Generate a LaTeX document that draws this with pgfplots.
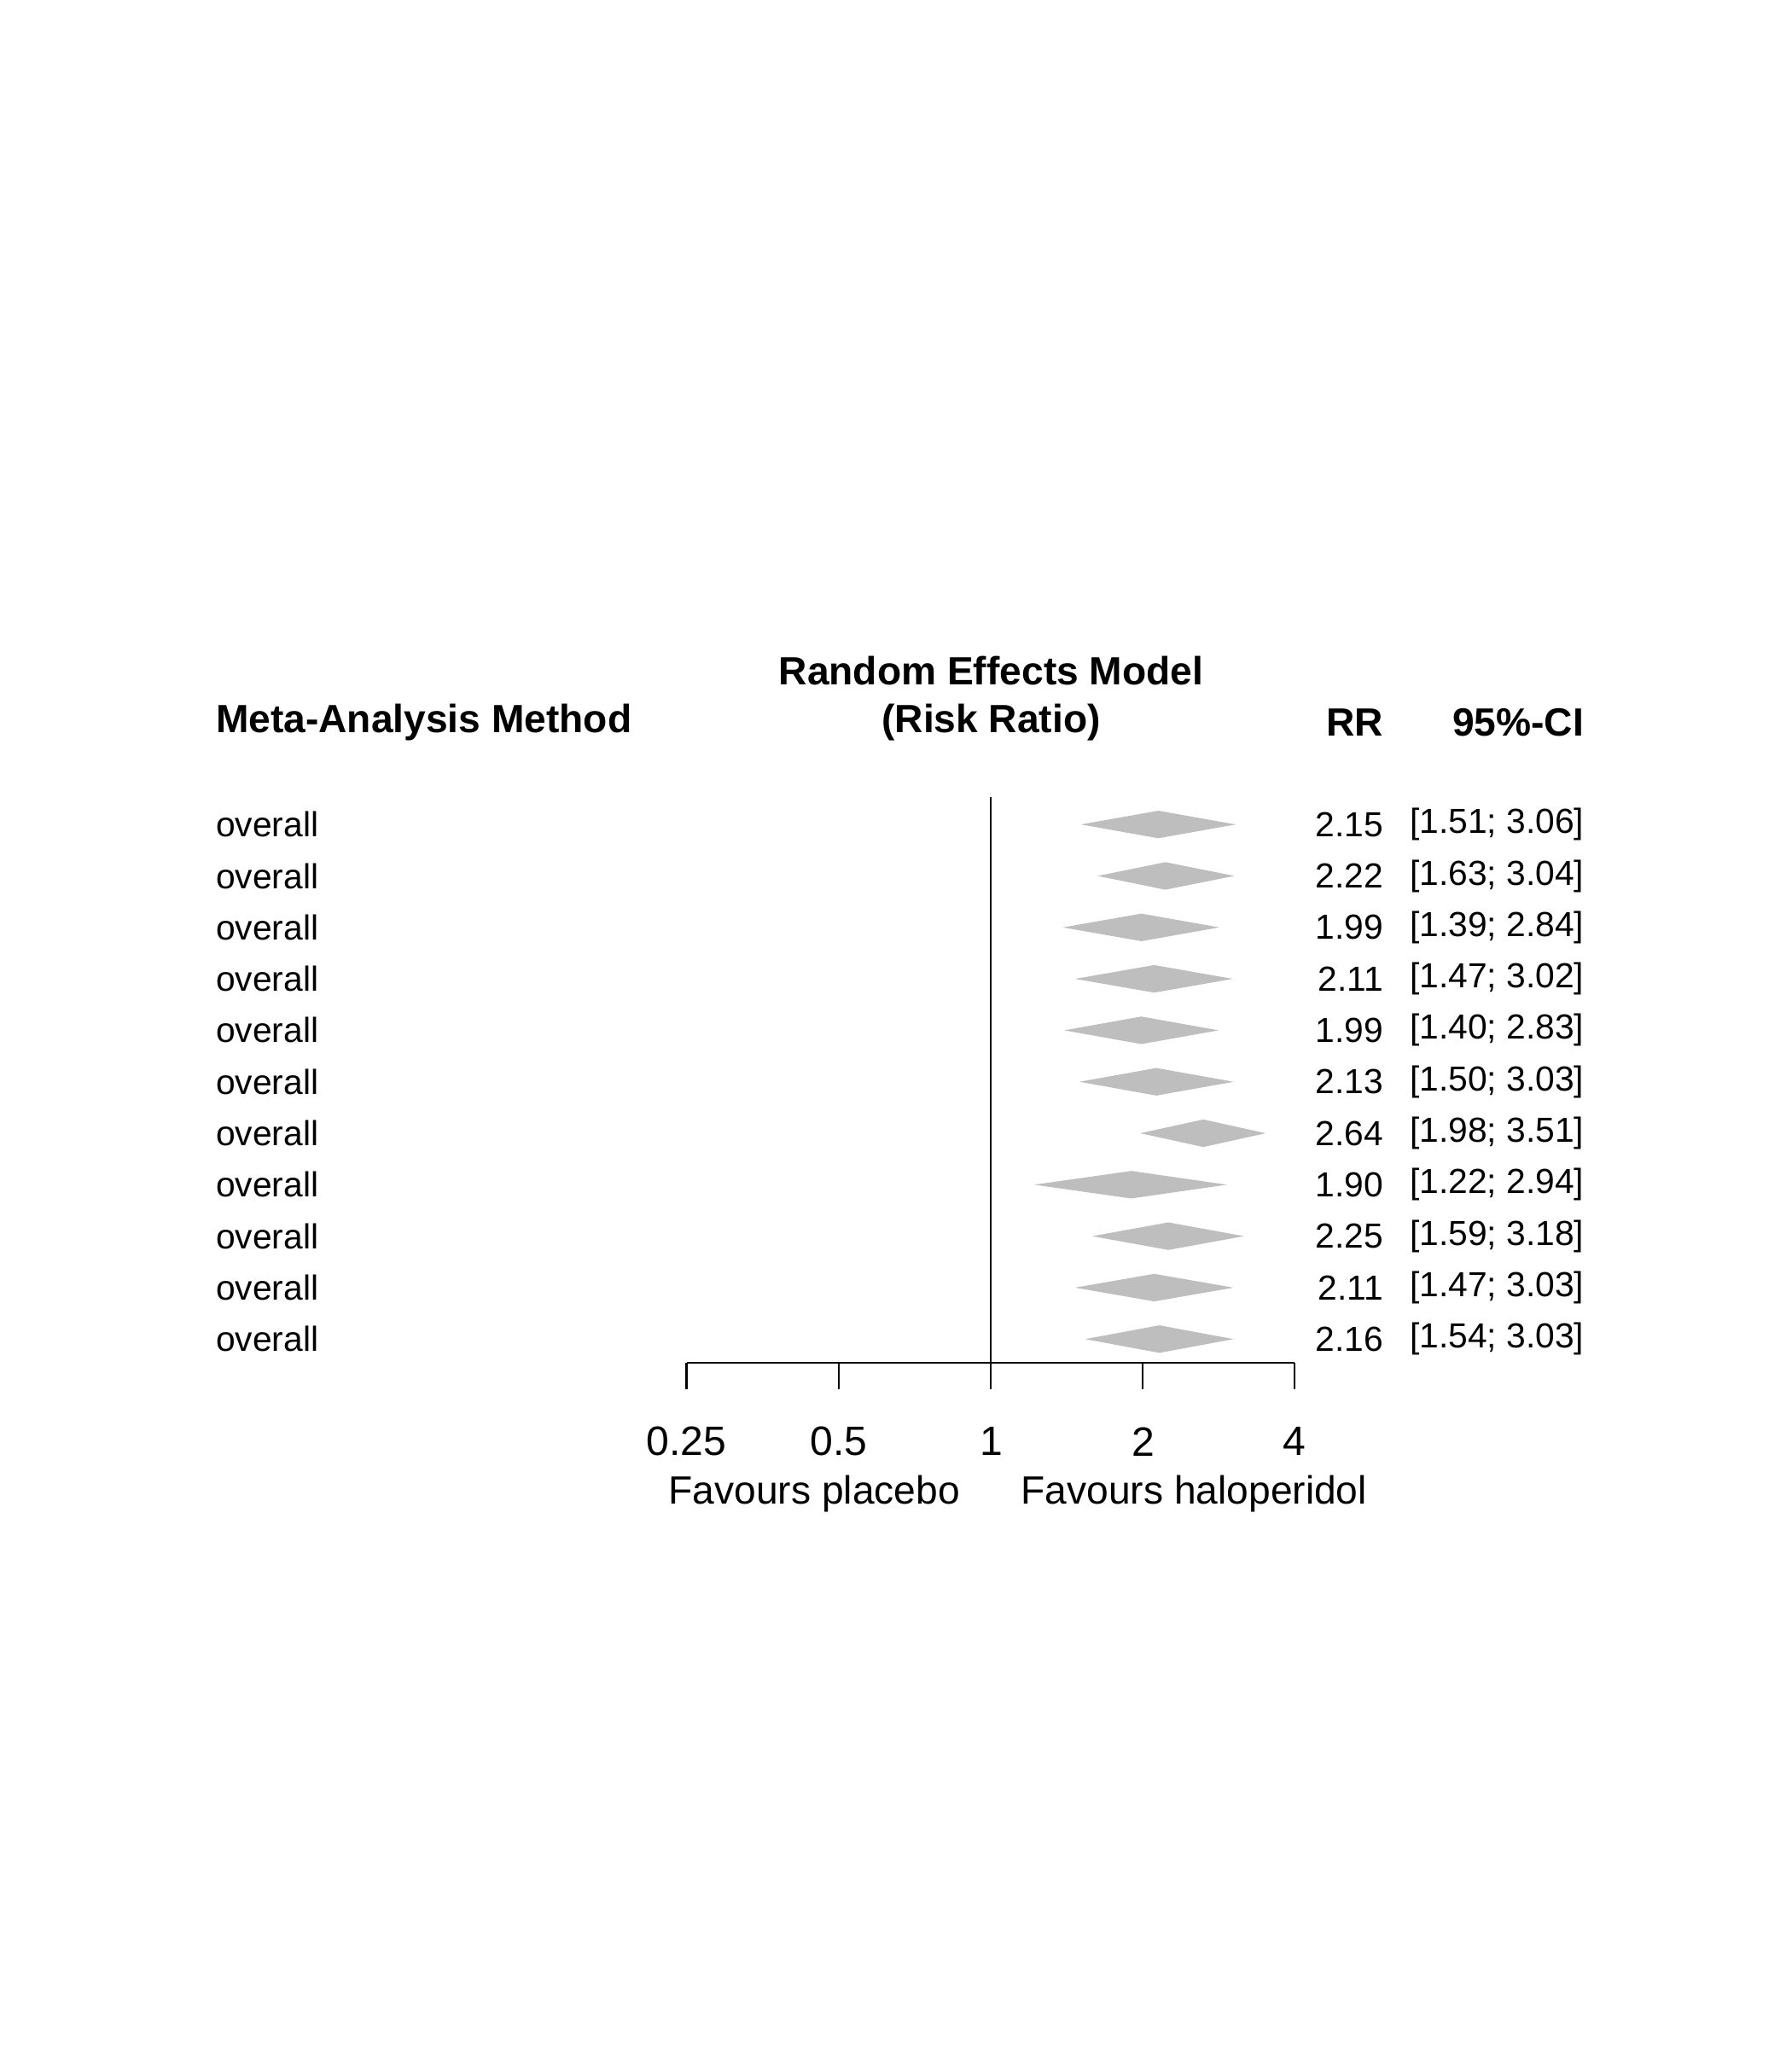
\documentclass[border=0pt]{standalone}
\usepackage{pgfplots}
\pgfplotsset{compat=1.18}
\usepackage{fontspec}
\setmainfont{Liberation Sans}
\definecolor{dia}{RGB}{190,190,190}
\begin{document}
\begin{tikzpicture}
\path (0pt,0pt) rectangle (546pt,-624pt);
\begin{axis}[at={(209.2pt,-415.2pt)},anchor=south west,scale only axis,
  width=185.2pt,height=172.4pt,xmode=log,log basis x=2,
  xmin=0.25,xmax=4,ymin=0,ymax=431,
  axis x line=bottom,axis y line=none,axis line style={-,line width=0.6pt},
  xtick={0.25,0.5,1,2,4},xticklabels={},tick align=outside,
  major tick length=8pt,tick style={line width=0.6pt,black},clip=false]
\addplot[black,line width=0.6pt] coordinates {(1,0)(1,431)};
\addplot[fill=dia,draw=none] coordinates {(1.51,410)(2.15,420.5)(3.06,410)(2.15,399.5)} --cycle;
\addplot[fill=dia,draw=none] coordinates {(1.63,370.8)(2.22,381.3)(3.04,370.8)(2.22,360.3)} --cycle;
\addplot[fill=dia,draw=none] coordinates {(1.39,331.6)(1.99,342.1)(2.84,331.6)(1.99,321.1)} --cycle;
\addplot[fill=dia,draw=none] coordinates {(1.47,292.4)(2.11,302.9)(3.02,292.4)(2.11,281.9)} --cycle;
\addplot[fill=dia,draw=none] coordinates {(1.40,253.2)(1.99,263.7)(2.83,253.2)(1.99,242.7)} --cycle;
\addplot[fill=dia,draw=none] coordinates {(1.50,214)(2.13,224.5)(3.03,214)(2.13,203.5)} --cycle;
\addplot[fill=dia,draw=none] coordinates {(1.98,174.8)(2.64,185.3)(3.51,174.8)(2.64,164.3)} --cycle;
\addplot[fill=dia,draw=none] coordinates {(1.22,135.6)(1.90,146.1)(2.94,135.6)(1.90,125.1)} --cycle;
\addplot[fill=dia,draw=none] coordinates {(1.59,96.4)(2.25,106.9)(3.18,96.4)(2.25,85.9)} --cycle;
\addplot[fill=dia,draw=none] coordinates {(1.47,57.2)(2.11,67.7)(3.03,57.2)(2.11,46.7)} --cycle;
\addplot[fill=dia,draw=none] coordinates {(1.54,18)(2.16,28.5)(3.03,18)(2.16,7.5)} --cycle;
\end{axis}
\begin{scope}[x=0.4pt,y=-0.4pt]
\foreach \x/\l in {523/0.25,639/0.5,755/1,871/2,986/4}
  \node[font=\fontsize{12.5}{14}\selectfont] at (\x,1098) {\l};
\node[font=\fontsize{12}{14}\selectfont,anchor=east] at (740,1138) {Favours placebo};
\node[font=\fontsize{12}{14}\selectfont,anchor=west] at (769,1138) {Favours haloperidol};
\begin{scope}[font=\bfseries\fontsize{12}{14}\selectfont]
\node at (755,511) {Random Effects Model};
\node at (755,550) {(Risk Ratio)};
\node[anchor=west,inner sep=0pt] at (164,550) {Meta-Analysis Method};
\node[anchor=east,inner sep=0pt] at (1054,550) {RR};
\node[anchor=east,inner sep=0pt] at (1207,550) {95\%-CI};
\end{scope}
\foreach \i/\r/\c in {0/2.15/{[1.51; 3.06]},1/2.22/{[1.63; 3.04]},2/1.99/{[1.39; 2.84]},3/2.11/{[1.47; 3.02]},4/1.99/{[1.40; 2.83]},5/2.13/{[1.50; 3.03]},6/2.64/{[1.98; 3.51]},7/1.90/{[1.22; 2.94]},8/2.25/{[1.59; 3.18]},9/2.11/{[1.47; 3.03]},10/2.16/{[1.54; 3.03]}}{
  \pgfmathsetmacro\yy{628+39.2*\i}
  \node[anchor=west,inner sep=0pt,font=\fontsize{10.6}{12}\selectfont] at (164,\yy) {overall};
  \node[anchor=east,inner sep=0pt,font=\fontsize{10.6}{12}\selectfont] at (1054,\yy) {\r};
  \node[anchor=east,inner sep=0pt,font=\fontsize{10.6}{12}\selectfont] at (1207,\yy) {\c};
}
\end{scope}
\end{tikzpicture}
\end{document}
